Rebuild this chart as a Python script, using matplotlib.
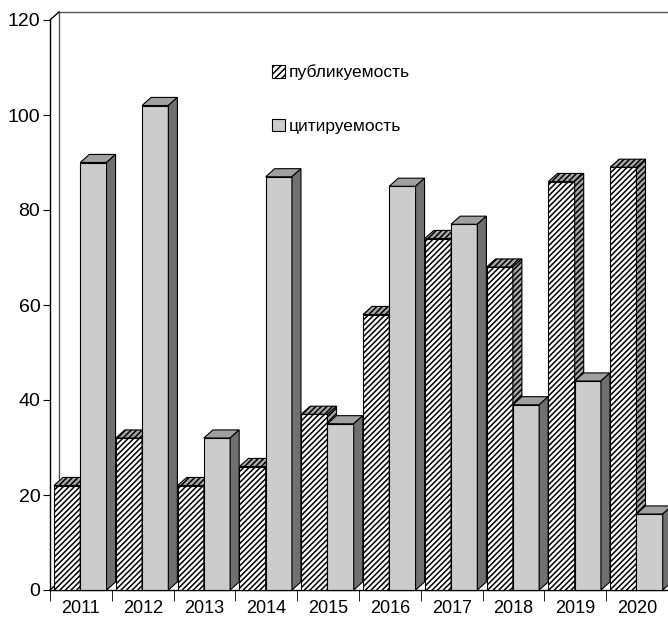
import matplotlib.pyplot as plt
from matplotlib.patches import Polygon, Patch

plt.rcParams['font.family'] = ['Liberation Sans', 'DejaVu Sans']
plt.rcParams['hatch.linewidth'] = 1.1

years = ['2011', '2012', '2013', '2014', '2015', '2016', '2017', '2018', '2019', '2020']
publ = [22, 32, 22, 26, 37, 58, 74, 68, 86, 89]   # публикуемость
cit = [90, 102, 32, 87, 35, 85, 77, 39, 44, 16]   # цитируемость

# 3d look
dx = 0.146
dy = 1.7
w = 0.425

fig = plt.figure(figsize=(6.68, 6.23), dpi=100)
ax = fig.add_axes([50/668, 33/623, 618/668, 570/623])
ax.set_xlim(-0.5, 9.5)
ax.set_ylim(0, 120)


def bar3d(x0, h, front, top, side, hatch=None):
    ax.bar(x0, h, w, align='edge', color=front, edgecolor='black',
           linewidth=0.8, hatch=hatch, zorder=3, clip_on=False)
    ax.add_patch(Polygon([(x0, h), (x0 + dx, h + dy), (x0 + w + dx, h + dy), (x0 + w, h)],
                         closed=True, facecolor=top, edgecolor='black', linewidth=0.8,
                         hatch=hatch, zorder=3, clip_on=False))
    ax.add_patch(Polygon([(x0 + w, 0), (x0 + w, h), (x0 + w + dx, h + dy), (x0 + w + dx, dy)],
                         closed=True, facecolor=side, edgecolor='black', linewidth=0.8,
                         hatch=hatch, zorder=3, clip_on=False))


for i in range(len(years)):
    bar3d(i - 0.5 + 0.065, publ[i], 'white', '#a8a8a8', '#a8a8a8', hatch='//////')
    bar3d(i - 0.5 + 0.49, cit[i], '#cccccc', '#a0a0a0', '#707070')

# back wall
ax.plot([-0.5 + dx, -0.5 + dx, 9.6], [dy, 120 + dy, 120 + dy], color='#555555', lw=1, zorder=1, clip_on=False)
ax.plot([-0.5, -0.5 + dx], [120, 120 + dy], color='black', lw=1, zorder=1, clip_on=False)
ax.plot([-0.5, -0.5 + dx], [0, dy], color='black', lw=1, zorder=1, clip_on=False)

ax.spines['top'].set_visible(False)
ax.spines['right'].set_visible(False)
ax.spines['left'].set_linewidth(1)
ax.spines['bottom'].set_linewidth(1)

ax.set_yticks(range(0, 121, 20))
ax.tick_params(axis='y', direction='out', length=5, labelsize=14, pad=2)
ax.set_xticks(range(len(years)))
ax.set_xticklabels(years)
ax.set_xticks([i + 0.5 for i in range(-1, 10)], minor=True)
ax.tick_params(axis='x', which='major', length=0, labelsize=13, pad=7)
ax.tick_params(axis='x', which='minor', direction='out', length=8)

handles = [Patch(facecolor='white', edgecolor='black', hatch='/////', linewidth=0.8),
           Patch(facecolor='#cccccc', edgecolor='black', linewidth=0.8)]
fig.legend(handles, ['публикуемость', 'цитируемость'], loc='upper left',
           bbox_to_anchor=(256/668, 1 - 49/623), frameon=False, fontsize=12.5,
           handlelength=0.75, handleheight=0.75, handletextpad=0.25, labelspacing=2.2)

fig.savefig('out.png', dpi=100, facecolor='white')
